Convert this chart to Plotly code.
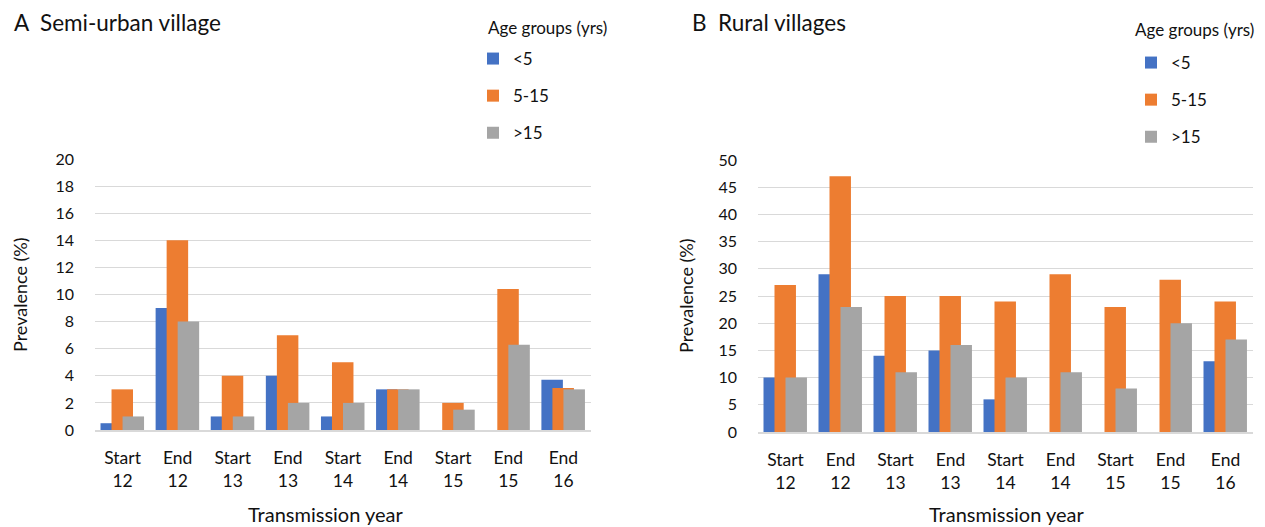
import plotly.graph_objects as go

# transmission season labels (shared by both panels)
periods = ["Start<br>12", "End<br>12", "Start<br>13", "End<br>13", "Start<br>14",
           "End<br>14", "Start<br>15", "End<br>15", "End<br>16"]
age_groups = ["<5", "5-15", ">15"]
colors = ["#4472C4", "#ED7D31", "#A5A5A5"]

# A: semi-urban village, prevalence (%)
semi_lt5 = [0.5, 9, 1, 4, 1, 3, 0, 0, 3.7]
semi_5_15 = [3, 14, 4, 7, 5, 3, 2, 10.4, 3.1]
semi_gt15 = [1, 8, 1, 2, 2, 3, 1.5, 6.3, 3]

# B: rural villages, prevalence (%)
rural_lt5 = [10, 29, 14, 15, 6, 0, 0, 0, 13]
rural_5_15 = [27, 47, 25, 25, 24, 29, 23, 28, 24]
rural_gt15 = [10, 23, 11, 16, 10, 11, 8, 20, 17]

FONT = "Lato"
TXT = "#111111"
W, H = 1265, 527
bw = 0.39
offsets = [-0.4, -0.2, 0.0]

fig = go.Figure()

panels = [
    ([semi_lt5, semi_5_15, semi_gt15], "x", "y", "legend"),
    ([rural_lt5, rural_5_15, rural_gt15], "x2", "y2", "legend2"),
]
for series, xa, ya, leg in panels:
    for i, vals in enumerate(series):
        fig.add_trace(go.Bar(
            x=periods, y=vals, name=age_groups[i],
            marker=dict(color=colors[i], line=dict(width=0)),
            width=bw, offset=offsets[i],
            xaxis=xa, yaxis=ya, legend=leg, legendgroup=leg + str(i),
        ))

grid = "#D9D9D9"
xcommon = dict(showgrid=False, showline=True, linecolor=grid, linewidth=1.5, ticks="",
               ticklabelstandoff=11, tickfont=dict(family=FONT, size=17.5, color=TXT))
ycommon = dict(showgrid=True, gridcolor=grid, gridwidth=1, zeroline=False,
               ticklabelstandoff=20, tickfont=dict(family=FONT, size=16, color=TXT))

fig.update_layout(
    width=W, height=H,
    margin=dict(l=0, r=0, t=0, b=0, autoexpand=False),
    plot_bgcolor="white", paper_bgcolor="white",
    barmode="overlay",
    font=dict(family=FONT, color=TXT),
    xaxis=dict(domain=[95 / W, 591 / W], anchor="y", **xcommon),
    yaxis=dict(domain=[1 - 430 / H, 1 - 159 / H], anchor="x", range=[0, 20], dtick=2, **ycommon),
    xaxis2=dict(domain=[758 / W, 1253 / W], anchor="y2", **xcommon),
    yaxis2=dict(domain=[1 - 432 / H, 1 - 160 / H], anchor="x2", range=[0, 50], dtick=5, **ycommon),
)

for name, xl, yt in [("legend", 473, 41), ("legend2", 1131, 45)]:
    fig.update_layout({name: dict(
        x=xl / W, y=1 - yt / H, xanchor="left", yanchor="top",
        bgcolor="rgba(0,0,0,0)", itemwidth=30, tracegroupgap=12,
        font=dict(family=FONT, size=17, color=TXT),
    )})


def label(x, y, text, size, anchor="left", angle=0):
    fig.add_annotation(x=x / W, y=1 - y / H, xref="paper", yref="paper", text=text,
                       showarrow=False, xanchor=anchor, yanchor="middle", textangle=angle,
                       font=dict(family=FONT, size=size, color=TXT))


label(12, 22, "A  Semi-urban village", 22.5)
label(690, 22, "B  Rural villages", 22.5)
label(486, 28, "Age groups (yrs)", 17)
label(1133, 30, "Age groups (yrs)", 17)
label(20, 295, "Prevalence (%)", 18, "center", -90)
label(686, 296, "Prevalence (%)", 18, "center", -90)
label(326, 514, "Transmission year", 20, "center")
label(1007, 514, "Transmission year", 20, "center")

# drop the page's default body margin so the figure sits at the window's corner
fig.write_html("out.html", config={"displayModeBar": False},
               post_script="document.body.style.margin='0';")
